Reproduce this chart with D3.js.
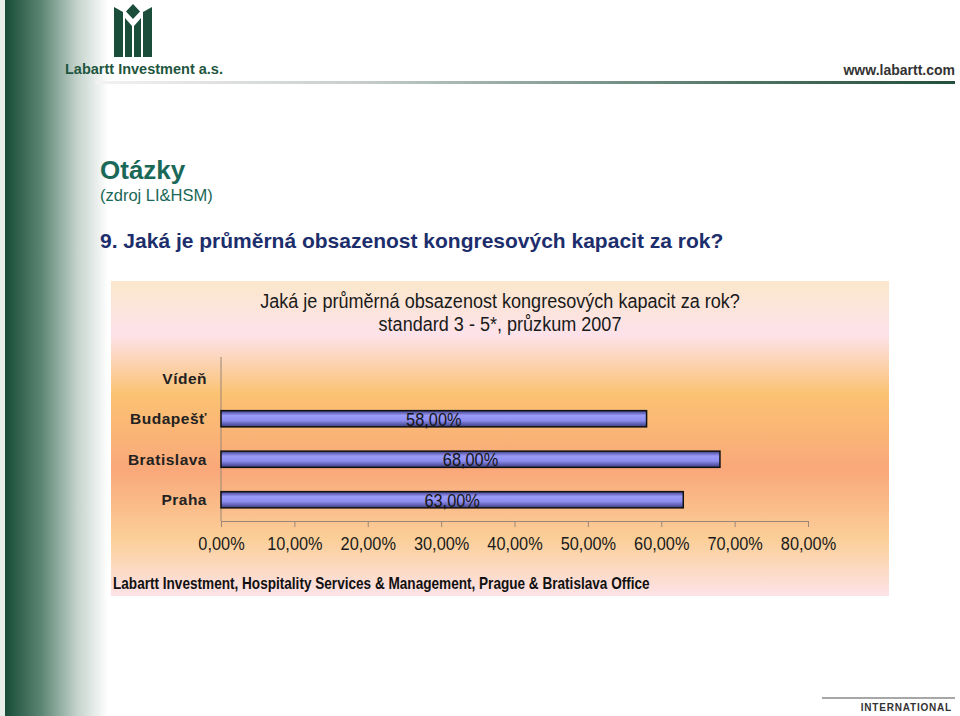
<!DOCTYPE html>
<html>
<head>
<meta charset="utf-8">
<script src="https://cdn.jsdelivr.net/npm/d3@7"></script>
<style>
  body { margin: 0; background: #fff; }
  svg { display: block; font-family: 'Liberation Sans', Arial, sans-serif; }
</style>
</head>
<body>
<script>
const cities = ['Vídeň', 'Budapešť', 'Bratislava', 'Praha'];
const occupancy = [null, 0.58, 0.68, 0.63];
const x_ticks = [0, 0.1, 0.2, 0.3, 0.4, 0.5, 0.6, 0.7, 0.8];

const chart_title = 'Jaká je průměrná obsazenost kongresových kapacit za rok?';
const chart_subtitle = 'standard 3 - 5*, průzkum 2007';
const footer = 'Labartt Investment, Hospitality Services & Management, Prague & Bratislava Office';

const dark_green = '#1b4e3a';
const squeeze = 0.86;   // chart texts in the original look condensed
const cz = d3.formatLocale({decimal: ',', thousands: ' ', grouping: [3], currency: ['', ' Kč']});
const pct = cz.format('.2%');

const svg = d3.select('body').append('svg')
  .attr('width', 960)
  .attr('height', 716);

const defs = svg.append('defs');

function gradient(id, x2, y2, stops) {
  const g = defs.append('linearGradient')
    .attr('id', id)
    .attr('x1', 0).attr('y1', 0)
    .attr('x2', x2).attr('y2', y2);
  for (let s of stops) {
    g.append('stop').attr('offset', s[0]).attr('stop-color', s[1]);
  }
}

function narrow_text(parent, px, py, size, str, sx) {
  return parent.append('text')
    .attr('transform', 'translate(' + px + ',' + py + ') scale(' + (sx || squeeze) + ',1)')
    .attr('font-size', size)
    .text(str);
}

gradient('side', 1, 0, [[0, '#184c36'], [0.35, '#5b8573'], [0.7, '#c4d3cc'], [1, '#ffffff']]);
gradient('rule', 1, 0, [[0, '#f2f2f2'], [0.3, '#c9cfcc'], [0.75, '#4f7565'], [1, '#244f3d']]);
gradient('panel', 0, 1, [
  [0, '#fbe7cb'], [0.17, '#fde2ea'], [0.36, '#fbc272'],
  [0.6, '#f9a87a'], [0.82, '#fbcf98'], [1, '#fde3e8']]);
gradient('bar', 0, 1, [[0, '#3f3f8a'], [0.3, '#9a9af8'], [0.6, '#8e8ef0'], [1, '#3a3a80']]);

// --- slide frame ---
svg.append('rect').attr('x', 0).attr('y', 0).attr('width', 6).attr('height', 716).attr('fill', '#e6efea');
svg.append('rect').attr('x', 5).attr('y', 0).attr('width', 103).attr('height', 716).attr('fill', 'url(#side)');

// logo
const logo = svg.append('g').attr('fill', dark_green);
logo.append('polygon').attr('points', '114,7 123,12 123,57 114,57');
logo.append('polygon').attr('points', '143,12 152,7 152,57 143,57');
logo.append('polygon').attr('points', '125,18 132,26 132,57 125,57');
logo.append('polygon').attr('points', '134,26 141,18 141,57 134,57');
logo.append('polygon').attr('points', '133,4 140,11.5 133,19 126,11.5');

svg.append('text')
  .attr('x', 65).attr('y', 74)
  .attr('font-size', 14.5).attr('font-weight', 'bold')
  .attr('fill', '#1f5640')
  .text('Labartt Investment a.s.');

svg.append('text')
  .attr('x', 955).attr('y', 75)
  .attr('text-anchor', 'end')
  .attr('font-size', 14).attr('font-weight', 'bold')
  .attr('fill', '#333')
  .text('www.labartt.com');

svg.append('rect').attr('x', 95).attr('y', 81).attr('width', 860).attr('height', 3).attr('fill', 'url(#rule)');

svg.append('text')
  .attr('x', 100).attr('y', 179)
  .attr('font-size', 26).attr('font-weight', 'bold')
  .attr('fill', '#1a6858')
  .text('Otázky');
svg.append('text')
  .attr('x', 100).attr('y', 201)
  .attr('font-size', 16.5)
  .attr('fill', '#1a6858')
  .text('(zdroj LI&HSM)');

svg.append('text')
  .attr('x', 100).attr('y', 248)
  .attr('font-size', 21).attr('font-weight', 'bold')
  .attr('fill', '#1c2e6c')
  .text('9. ' + chart_title);

svg.append('line')
  .attr('x1', 822).attr('x2', 955).attr('y1', 698).attr('y2', 698)
  .attr('stroke', '#8a8a8a').attr('stroke-width', 1.5);
svg.append('text')
  .attr('x', 952).attr('y', 711)
  .attr('text-anchor', 'end')
  .attr('font-size', 10).attr('font-weight', 'bold')
  .attr('letter-spacing', 0.8)
  .attr('fill', '#333')
  .text('INTERNATIONAL');

// --- chart panel ---
svg.append('rect')
  .attr('x', 111).attr('y', 281)
  .attr('width', 778).attr('height', 315)
  .attr('fill', 'url(#panel)');

const ct = svg.append('g').attr('fill', '#1a1a1a').attr('text-anchor', 'middle');
narrow_text(ct, 500, 308, 21, chart_title);
narrow_text(ct, 500, 331, 21, chart_subtitle);

const x = d3.scaleLinear().domain([0, 0.8]).range([221, 808]);
const y = d3.scaleBand().domain(cities).range([358, 520]).paddingInner(0.6).paddingOuter(0.3);

const x_ax = d3.axisBottom(x).tickValues(x_ticks).tickSize(6).tickSizeOuter(0).tickFormat(pct);
const gx = svg.append('g')
  .attr('transform', 'translate(0,521)')
  .call(x_ax);
gx.select('.domain').attr('stroke', '#9a8678');
gx.selectAll('.tick line').attr('stroke', '#9a8678');
gx.selectAll('.tick text')
  .attr('y', 0).attr('dy', 0)
  .attr('transform', 'translate(0,29) scale(' + squeeze + ',1)')
  .attr('font-size', 19)
  .attr('fill', '#1a1a1a');

const y_ax = d3.axisLeft(y).tickSize(0).tickPadding(14);
const gy = svg.append('g')
  .attr('transform', 'translate(221,0)')
  .call(y_ax);
gy.select('.domain').attr('stroke', '#9a8678').attr('d', 'M0,357V521');
gy.selectAll('.tick text')
  .attr('font-size', 15.5)
  .attr('letter-spacing', 0.5)
  .attr('font-weight', 'bold')
  .attr('dy', '0.35em')
  .attr('fill', '#222');

const rows = cities.map((c, i) => ({city: c, v: occupancy[i]})).filter(d => d.v != null);

svg.selectAll('.bar')
  .data(rows)
  .enter()
  .append('rect')
    .attr('class', 'bar')
    .attr('x', x(0))
    .attr('y', d => y(d.city))
    .attr('width', d => x(d.v) - x(0))
    .attr('height', y.bandwidth())
    .attr('fill', 'url(#bar)')
    .attr('stroke', '#111')
    .attr('stroke-width', 1.5);

svg.selectAll('.bar_label')
  .data(rows)
  .enter()
  .append('text')
    .attr('class', 'bar_label')
    .attr('transform', d => 'translate(' + (x(0) + x(d.v)) / 2 + ',' + (y(d.city) + y.bandwidth() / 2 + 7) + ') scale(' + squeeze + ',1)')
    .attr('text-anchor', 'middle')
    .attr('font-size', 19)
    .attr('fill', '#151515')
    .text(d => pct(d.v));

narrow_text(svg, 113, 589, 16, footer, 0.85)
  .attr('font-weight', 'bold')
  .attr('fill', '#111');
</script>
</body>
</html>
